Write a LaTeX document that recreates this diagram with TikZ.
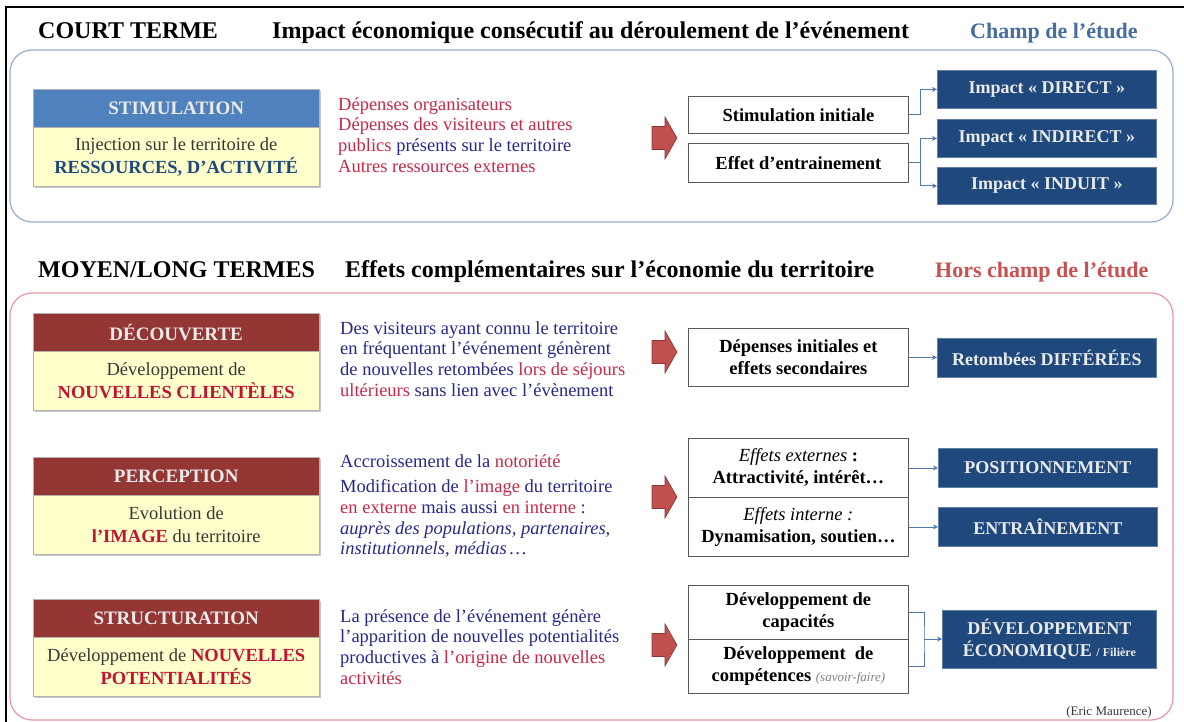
\documentclass[tikz,border=0pt]{standalone}
\usepackage{fontspec}
\setmainfont{Liberation Serif}
\usetikzlibrary{arrows.meta,shadows}
\definecolor{tred}{RGB}{200,40,72}
\definecolor{bred}{RGB}{192,20,50}
\definecolor{navytext}{RGB}{40,40,140}
\definecolor{headblue}{RGB}{79,129,189}
\definecolor{headred}{RGB}{148,54,52}
\definecolor{lyellow}{RGB}{255,255,204}
\definecolor{navybox}{RGB}{31,73,125}
\definecolor{resblue}{RGB}{31,73,125}
\definecolor{champblue}{RGB}{70,110,160}
\definecolor{horsred}{RGB}{200,80,80}
\definecolor{topframe}{RGB}{150,175,205}
\definecolor{botframe}{RGB}{232,150,160}
\definecolor{connblue}{RGB}{80,120,170}
\definecolor{arrowred}{RGB}{192,80,77}
\definecolor{bodygray}{RGB}{55,55,55}
\begin{document}
\begin{tikzpicture}[x=1pt,y=-1pt,
  hdr/.style={font=\bfseries\fontsize{24}{28}\selectfont, anchor=base west, inner sep=0},
  champ/.style={font=\bfseries\fontsize{22}{26}\selectfont, anchor=base west, inner sep=0},
  softshadow/.style={drop shadow={shadow xshift=1.5pt, shadow yshift=-1.5pt, fill=gray!45, opacity=1}},
  lhead/.style={draw=gray!60, minimum width=286, minimum height=38, anchor=north west,
    font=\bfseries\fontsize{19}{22}\selectfont, text=white!92!black, inner sep=0, softshadow},
  lbody/.style={draw=gray!60, fill=lyellow, minimum width=286, minimum height=59, anchor=north west,
    align=center, font=\fontsize{18.5}{23}\selectfont, text=bodygray, inner sep=0, softshadow},
  midtext/.style={anchor=west, align=left, font=\fontsize{18.5}{20.7}\selectfont, inner sep=0, text=navytext},
  wbox/.style={draw=gray!70!black, line width=0.8, fill=white, minimum width=220, anchor=north west,
    align=center, font=\bfseries\fontsize{18.5}{22}\selectfont, inner sep=0},
  bbox/.style={fill=navybox, draw=navybox!70!white, line width=0.8, minimum width=219, anchor=north west,
    align=center, text=white!92!black, font=\bfseries\fontsize{18}{22}\selectfont, inner sep=0},
  bigarrow/.style={fill=arrowred, draw=arrowred!70!black, line width=0.6},
  conn/.style={draw=connblue, line width=0.8, -{Stealth[length=5,width=5]}},
  connline/.style={draw=connblue, line width=0.8}]
\useasboundingbox (0,0) rectangle (1184,722);
\fill[white] (0,0) rectangle (1184,722);
\draw[line width=2] (6,722) -- (6,7) -- (1184,7);

% ---------- COURT TERME ----------
\node[hdr] (ct) at (38,39) {COURT TERME};
\node[hdr] (ctsub) at (272,39) {Impact économique consécutif au déroulement de l’événement};
\node[champ, text=champblue] (champ) at (970,39) {Champ de l’étude};
\draw[topframe, line width=1.2, rounded corners=22] (10,50) rectangle (1173,222);

\node[lhead, fill=headblue] (stimH) at (33,89) {STIMULATION};
\node[lbody] (stimB) at (33,127) {Injection sur le territoire de\\{\bfseries\color{resblue}RESSOURCES, D’ACTIVITÉ}};

\node[midtext] (stimT) at (338,135) {{\color{tred}Dépenses organisateurs}\\
{\color{tred}Dépenses des visiteurs et autres}\\
{\color{tred}publics} présents sur le territoire\\
{\color{tred}Autres ressources externes}};

\draw[bigarrow] (652,126.5) -- (665,126.5) -- (665,117) -- (677,138) -- (665,159) -- (665,149.5) -- (652,149.5) -- cycle;

\node[wbox, minimum height=37] (sti) at (688,96) {Stimulation initiale};
\node[wbox, minimum height=39] (eff) at (688,143) {Effet d’entrainement};

\node[bbox, minimum height=38] (dir) at (937,70) {Impact « DIRECT »};
\node[bbox, minimum height=38] (indir) at (937,119) {Impact « INDIRECT »};
\node[bbox, minimum height=37] (induit) at (937,167) {Impact « INDUIT »};

\draw[conn] (sti.east) -- ++(12,0) |- (dir.west);
\draw[conn] (eff.east) -- ++(12,0) |- (indir.west);
\draw[conn] (eff.east) -- ++(12,0) |- (induit.west);

% ---------- MOYEN / LONG TERMES ----------
\node[hdr] (ml) at (38,278) {MOYEN/LONG TERMES};
\node[hdr] (mlsub) at (345,278) {Effets complémentaires sur l’économie du territoire};
\node[champ, text=horsred] (hors) at (935,278) {Hors champ de l’étude};
\draw[botframe, line width=1.2, rounded corners=22] (10,293) rectangle (1173,720);

% row: DECOUVERTE
\node[lhead, fill=headred] (decH) at (33,313) {DÉCOUVERTE};
\node[lbody] (decB) at (33,351) {Développement de\\{\bfseries\color{bred}NOUVELLES CLIENTÈLES}};
\node[midtext] (decT) at (340,359) {Des visiteurs ayant connu le territoire\\
en fréquentant l’événement génèrent\\
de nouvelles retombées {\color{tred}lors de séjours}\\
{\color{tred}ultérieurs} sans lien avec l’évènement};
\draw[bigarrow] (652,340.5) -- (665,340.5) -- (665,331) -- (677,352) -- (665,373) -- (665,363.5) -- (652,363.5) -- cycle;
\node[wbox, minimum height=58] (dep) at (688,328) {Dépenses initiales et\\effets secondaires};
\node[bbox, minimum height=39] (ret) at (937,337.5) {Retombées DIFFÉRÉES};
\draw[conn] (dep.east) -- (ret.west);

% row: PERCEPTION
\node[lhead, fill=headred] (perH) at (33,457) {PERCEPTION};
\node[lbody] (perB) at (33,495) {Evolution de\\{\bfseries\color{bred}l’IMAGE} du territoire};
\node[midtext] (perT) at (340,506) {Accroissement de la {\color{tred}notoriété}\\[5pt]
Modification de {\color{tred}l’image} du territoire\\
{\color{tred}en externe} mais aussi {\color{tred}en interne} :\\
\textit{auprès des populations, partenaires,}\\
\textit{institutionnels, médias\,…}};
\draw[bigarrow] (652,485.5) -- (665,485.5) -- (665,476) -- (677,497) -- (665,518) -- (665,508.5) -- (652,508.5) -- cycle;
\node[wbox, minimum height=59] (ext) at (688,438) {{\mdseries\itshape Effets externes} :\\Attractivité, intérêt…};
\node[wbox, minimum height=59] (int) at (688,497) {{\mdseries\itshape Effets interne :}\\Dynamisation, soutien…};
\node[bbox, minimum height=39] (pos) at (938,448) {POSITIONNEMENT};
\node[bbox, minimum height=39] (ent) at (938,507) {ENTRAÎNEMENT};
\draw[conn] (ext.east) -- (ext.east -| pos.west);
\draw[conn] (int.east) -- (int.east -| ent.west);

% row: STRUCTURATION
\node[lhead, fill=headred] (strH) at (33,599) {STRUCTURATION};
\node[lbody] (strB) at (33,637) {Développement de {\bfseries\color{bred}NOUVELLES}\\{\bfseries\color{bred}POTENTIALITÉS}};
\node[midtext] (strT) at (340,647) {La présence de l’événement génère\\
l’apparition de nouvelles potentialités\\
productives à {\color{tred}l’origine de nouvelles}\\
{\color{tred}activités}};
\draw[bigarrow] (652,633.5) -- (665,633.5) -- (665,624) -- (677,645) -- (665,666) -- (665,656.5) -- (652,656.5) -- cycle;
\node[wbox, minimum height=54] (cap) at (688,585) {Développement de\\capacités};
\node[wbox, minimum height=54] (comp) at (688,639) {Développement~ de\\compétences {\mdseries\itshape\fontsize{13}{15}\selectfont\color{gray}(savoir-faire)}};
\node[bbox, minimum width=214, minimum height=58] (eco) at (942,610) {DÉVELOPPEMENT\\ÉCONOMIQUE {\fontsize{12}{14}\selectfont / Filière}};
\coordinate (brk) at (924,639);
\draw[connline] (cap.east) -| (brk) |- (comp.east);
\draw[conn] (brk) -- (brk -| eco.west);

\node[font=\fontsize{13}{15}\selectfont, text=bodygray, anchor=base east, inner sep=0] (src) at (1152,715) {(Eric Maurence)};
\end{tikzpicture}
\end{document}
